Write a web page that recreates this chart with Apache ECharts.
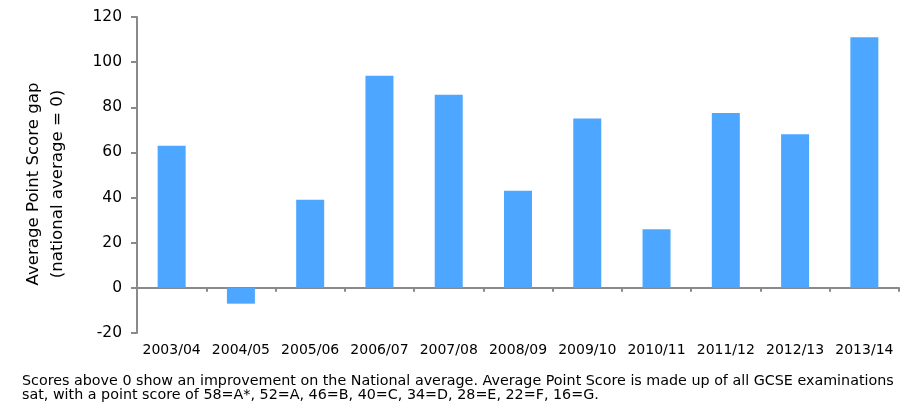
<!DOCTYPE html>
<html>
<head>
<meta charset="utf-8">
<script src="https://cdn.jsdelivr.net/npm/echarts@6/dist/echarts.min.js"></script>
<style>
  html, body { margin: 0; padding: 0; background: #fff; }
  #chart { width: 905px; height: 405px; }
</style>
</head>
<body>
<div id="chart"></div>
<script>
// Academic years shown along the bottom
const years = ['2003/04', '2004/05', '2005/06', '2006/07', '2007/08', '2008/09',
               '2009/10', '2010/11', '2011/12', '2012/13', '2013/14'];
// Average Point Score gap against the national average (0)
const scoreGap = [63, -7, 39, 94, 85.5, 43, 75, 26, 77.5, 68, 111];
// Value axis range and step
const yMin = -20;
const yMax = 120;
const yStep = 20;

const titleLines = ['Average Point Score gap', '(national average = 0)'];
const noteLines = [
  'Scores above 0 show an improvement on the National average. Average Point Score is made up of all GCSE examinations',
  'sat, with a point score of 58=A*, 52=A, 46=B, 40=C, 34=D, 28=E, 22=F, 16=G.'
];

const FONT = 'DejaVu Sans';
const AXIS_GREY = '#8a8a8a';

const chart = echarts.init(document.getElementById('chart'), null, { renderer: 'canvas' });

chart.setOption({
  animation: false,
  backgroundColor: '#ffffff',
  grid: { left: 137, right: 6, top: 17, bottom: 72, containLabel: false },
  xAxis: [
    {
      // zero line with boundary ticks
      type: 'category',
      data: years,
      position: 'bottom',
      axisLine: { show: true, onZero: true, lineStyle: { color: AXIS_GREY, width: 2 } },
      axisTick: { show: true, length: 4, inside: false, lineStyle: { color: AXIS_GREY, width: 2 } },
      axisLabel: { show: false },
      splitLine: { show: false }
    },
    {
      // year labels along the bottom edge of the plot
      type: 'category',
      data: years,
      position: 'bottom',
      axisLine: { show: false, onZero: false },
      axisTick: { show: false },
      axisLabel: {
        show: true, interval: 0, hideOverlap: false, margin: 10,
        fontFamily: FONT, fontSize: 14, color: '#000'
      },
      splitLine: { show: false }
    }
  ],
  yAxis: {
    type: 'value',
    min: yMin,
    max: yMax,
    interval: yStep,
    axisLine: { show: true, lineStyle: { color: AXIS_GREY, width: 2 } },
    axisTick: { show: true, length: 6, inside: false, lineStyle: { color: AXIS_GREY, width: 2 } },
    axisLabel: { margin: 15, fontFamily: FONT, fontSize: 15.5, color: '#000' },
    splitLine: { show: false }
  },
  series: [
    {
      type: 'bar',
      xAxisIndex: 0,
      data: scoreGap,
      barWidth: 28,
      itemStyle: { color: '#4da6ff' },
      z: 3
    }
  ],
  graphic: [
    {
      type: 'text',
      x: 46,
      y: 184,
      rotation: Math.PI / 2,
      style: {
        text: titleLines.join('\n'),
        fontFamily: FONT,
        fontSize: 16.6,
        lineHeight: 24,
        fill: '#000',
        align: 'center',
        verticalAlign: 'middle'
      }
    },
    {
      type: 'text',
      x: 22,
      y: 374,
      style: {
        text: noteLines.join('\n'),
        fontFamily: FONT,
        fontSize: 14.3,
        lineHeight: 14,
        fill: '#000',
        align: 'left',
        verticalAlign: 'top'
      }
    }
  ]
});
</script>
</body>
</html>
